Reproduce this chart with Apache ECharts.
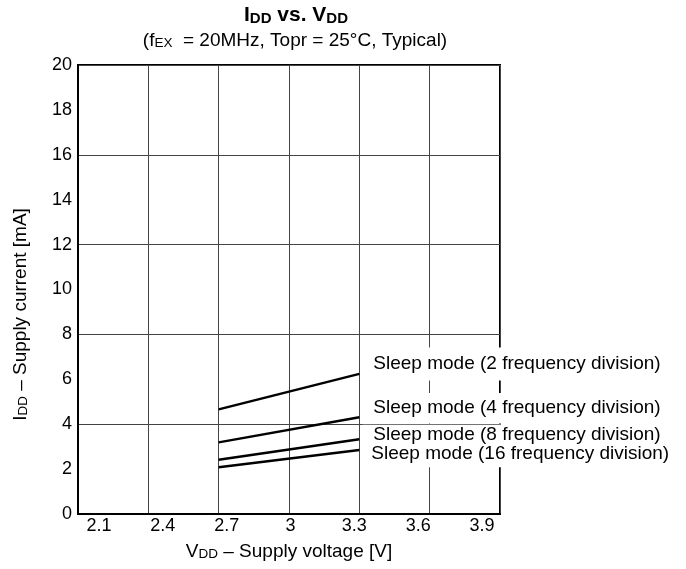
<!DOCTYPE html>
<html>
<head>
<meta charset="utf-8">
<script src="https://cdn.jsdelivr.net/npm/echarts@6/dist/echarts.min.js"></script>
<style>html,body{margin:0;padding:0;background:#fff;}#c{width:686px;height:569px;}</style>
</head>
<body>
<div id="c"></div>
<script>
const xValues = [2.7, 3.3];
const div2 = [4.66, 6.24];
const div4 = [3.19, 4.31];
const div8 = [2.42, 3.33];
const div16 = [2.08, 2.85];
const xTickLabels = [2.1, 2.4, 2.7, 3.0, 3.3, 3.6, 3.9];
const seriesNames = [
  'Sleep mode (2 frequency division)',
  'Sleep mode (4 frequency division)',
  'Sleep mode (8 frequency division)',
  'Sleep mode (16 frequency division)'
];

const FONT = "'Liberation Sans', Arial, sans-serif";
const chart = echarts.init(document.getElementById('c'), null, {renderer: 'canvas'});

function mk(name, vals, offset, padding, z) {
  return {
    type: 'line',
    name: name,
    data: xValues.map((x, i) => [x, vals[i]]),
    symbol: 'none',
    lineStyle: {color: '#000', width: 2.5},
    z: z,
    endLabel: {
      show: true,
      formatter: name,
      color: '#000',
      fontSize: 19,
      lineHeight: 19,
      fontFamily: FONT,
      backgroundColor: '#fff',
      padding: padding,
      distance: 3,
      offset: offset
    }
  };
}

const option = {
  animation: false,
  backgroundColor: '#fff',
  textStyle: {fontFamily: FONT, color: '#000'},
  title: [
    {
      text: '{b|I}{bs|DD}{b| vs. V}{bs|DD}',
      left: 291, top: 0, textAlign: 'center',
      textStyle: {
        rich: {
          b: {fontSize: 21, fontWeight: 'bold', fontFamily: FONT, color: '#000', verticalAlign: 'bottom'},
          bs: {fontSize: 15, fontWeight: 'bold', fontFamily: FONT, color: '#000', verticalAlign: 'bottom'}
        }
      }
    },
    {
      text: '{n|(f}{s|EX}{n|  = 20MHz, Topr = 25°C, Typical)}',
      left: 290, top: 26, textAlign: 'center',
      textStyle: {
        fontWeight: 'normal',
        rich: {
          n: {fontSize: 19, fontWeight: 'normal', fontFamily: FONT, color: '#000', verticalAlign: 'bottom'},
          s: {fontSize: 13.5, fontWeight: 'normal', fontFamily: FONT, color: '#000', verticalAlign: 'bottom'}
        }
      }
    }
  ],
  grid: {left: 78, right: 186, top: 65, bottom: 55, show: true, borderColor: '#000', borderWidth: 2, backgroundColor: 'transparent'},
  xAxis: [
    {
      type: 'value', min: 2.1, max: 3.9, interval: 0.3,
      position: 'bottom',
      name: '{n|V}{s|DD}{n| – Supply voltage [V]}',
      nameLocation: 'middle', nameGap: 28,
      nameTextStyle: {
        rich: {
          n: {fontSize: 19, fontFamily: FONT, color: '#000', verticalAlign: 'bottom'},
          s: {fontSize: 13.5, fontFamily: FONT, color: '#000', verticalAlign: 'bottom'}
        }
      },
      axisLine: {show: true, lineStyle: {color: '#000', width: 2}},
      axisTick: {show: false},
      axisLabel: {show: false},
      splitLine: {show: true, lineStyle: {color: '#444', width: 1}}
    },
    {
      type: 'value', min: 2.0013, max: 3.9846,
      position: 'bottom', offset: 0,
      axisLine: {show: false},
      axisTick: {show: false},
      splitLine: {show: false},
      axisLabel: {
        show: true, customValues: xTickLabels,
        formatter: v => String(Math.round(v * 10) / 10),
        fontSize: 18, fontFamily: FONT, color: '#000', margin: 3
      }
    }
  ],
  yAxis: {
    type: 'value', min: 0, max: 20, interval: 2,
    name: '{n|I}{s|DD}{n| – Supply current [mA]}',
    nameLocation: 'middle', nameGap: 48, nameRotate: 90,
    nameTextStyle: {
      padding: [0, 50, 0, 0],
      rich: {
        n: {fontSize: 19, fontFamily: FONT, color: '#000', verticalAlign: 'bottom'},
        s: {fontSize: 13.5, fontFamily: FONT, color: '#000', verticalAlign: 'bottom'}
      }
    },
    axisLine: {show: true, lineStyle: {color: '#000', width: 2}},
    axisTick: {show: false},
    axisLabel: {fontSize: 18, fontFamily: FONT, color: '#000', margin: 6},
    splitLine: {show: true, lineStyle: {color: ['#444', 'rgba(0,0,0,0)'], width: 1}}
  },
  series: [
    mk(seriesNames[0], div2, [0, -10], [7.5, 8, 6.5, 11], 5),
    mk(seriesNames[1], div4, [0, -9], [9.5, 8, 2, 11], 5),
    mk(seriesNames[2], div8, [0, -4], [2, 8, 0, 11], 7),
    mk(seriesNames[3], div16, [0, 4], [0, 8, 7.5, 9], 6)
  ]
};
chart.setOption(option);
</script>
</body>
</html>
